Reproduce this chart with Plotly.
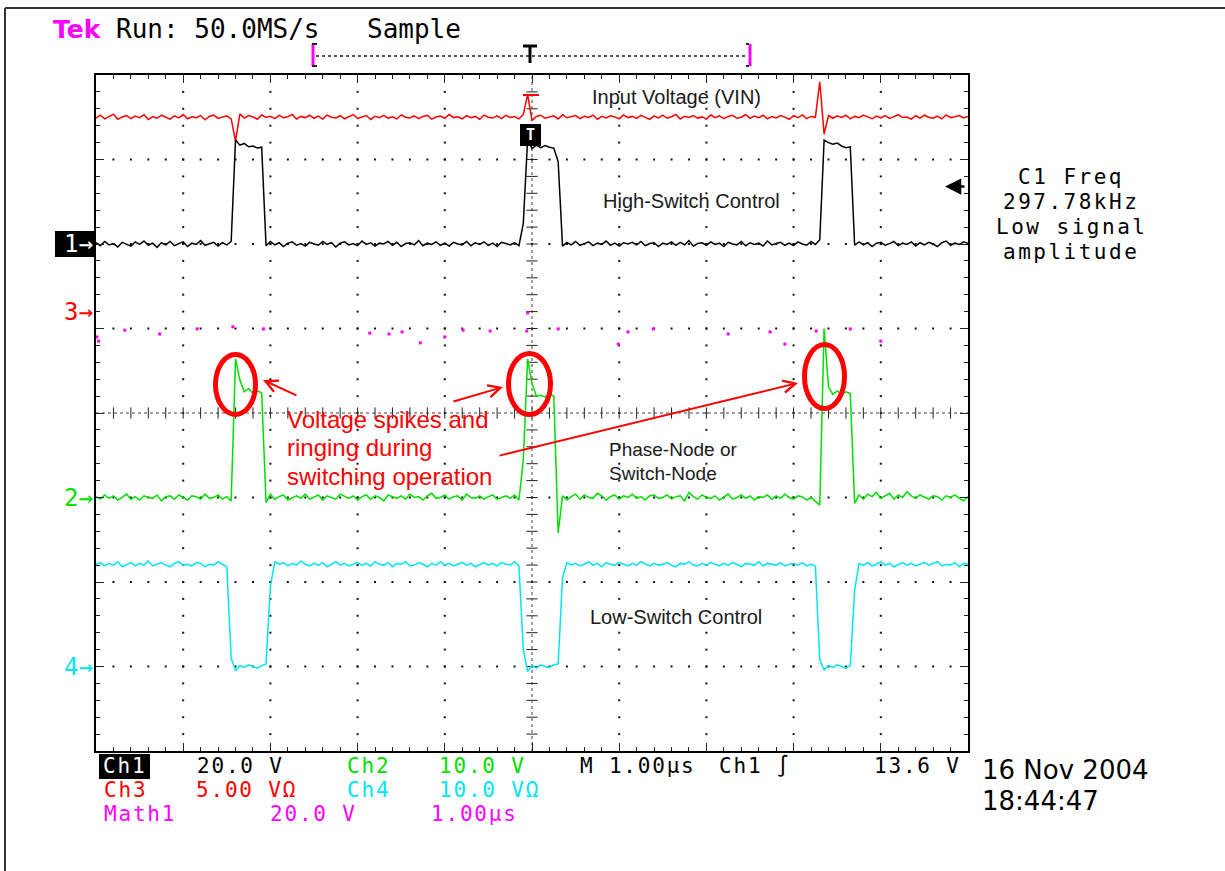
import plotly.graph_objects as go

W, H = 1225, 871
# graticule box in page pixels (left, right, top, bottom)
GX0, GX1, GY0, GY1 = 96, 968, 75, 751

# ---------------- data ----------------
# time base: 1.00 us/div, 10 divisions, displayed samples every 0.05 us
N_SAMPLES = 201
T_START_US, T_STEP_US = -5.0, 0.05
TIME_US = [round(T_START_US + T_STEP_US * i, 3) for i in range(N_SAMPLES)]

# Ch1 : High-Switch Control (volts)
CH1_V = [
    0.3, -0.4, 0.6, -0.2, 0.1, -0.7, 0.4, 0.0, -0.5, 0.5,
    -0.1, 0.7, -0.3, 0.2, -0.8, 0.3, -0.2, 0.6, -0.4, 0.1,
    0.5, -0.6, 0.2, -0.1, 0.8, -0.3, 0.0, 0.4, -0.5, 0.3,
    -0.2, 0.6, 24.6, 23.4, 23.8, 23.0, 23.2, 22.7, 22.9, -0.4,
    0.6, -0.2, 0.3, -0.6, 0.2, 0.5, -0.3, 0.1, -0.5, 0.4,
    0.0, -0.3, 0.6, -0.1, 0.3, -0.7, 0.2, 0.5, -0.2, 0.1,
    -0.4, 0.7, -0.1, 0.3, -0.5, 0.2, 0.0, 0.6, -0.3, 0.4,
    -0.6, 0.1, 0.3, -0.2, 0.8, -0.4, 0.2, -0.1, 0.5, -0.3,
    0.2, -0.5, 0.4, 0.0, -0.2, 0.6, -0.4, 0.3, -0.1, 0.5,
    -0.3, 0.2, -0.6, 0.4, 0.1, -0.2, 0.3, -0.4, 4.8, 24.8,
    22.6, 23.4, 22.8, 23.3, 22.9, 22.7, 19.5, -0.5, 0.4, -0.2,
    0.6, -0.3, 0.1, 0.5, -0.4, 0.2, -0.1, 0.7, -0.3, 0.2,
    -0.5, 0.3, 0.0, 0.4, -0.2, 0.6, -0.4, 0.1, 0.3, -0.6,
    0.2, -0.1, 0.5, -0.3, 0.4, -0.2, 0.8, -0.5, 0.1, 0.3,
    -0.3, 0.5, -0.1, 0.2, -0.6, 0.4, 0.0, -0.2, 0.6, -0.4,
    0.3, -0.1, 0.2, -0.5, 0.7, -0.2, 0.1, 0.4, -0.3, 0.2,
    -0.4, 0.5, 0.0, -0.3, 0.6, -0.1, 1.0, 24.6, 24.0, 23.6,
    23.9, 23.2, 22.8, 23.0, -0.3, 0.5, -0.2, 0.3, -0.6, 0.2,
    0.4, -0.3, 0.1, 0.6, -0.4, 0.2, -0.1, 0.5, -0.5, 0.3,
    -0.2, 0.4, 0.0, -0.6, 0.3, 0.7, -0.3, 0.2, -0.1, 0.5,
    0.1,
]

# Ch2 : Phase-Node / Switch-Node (volts)
CH2_V = [
    0.1, -0.2, 0.3, -0.1, 0.2, -0.3, 0.0, 0.4, -0.2, 0.1,
    -0.3, 0.2, 0.0, -0.1, 0.3, -0.4, 0.1, 0.2, -0.2, 0.3,
    0.0, -0.3, 0.2, 0.1, -0.2, 0.4, -0.1, 0.0, 0.3, -0.2,
    0.1, -0.4, 16.4, 13.9, 12.5, 12.9, 12.3, 12.6, 12.4, -0.6,
    0.4, -0.2, 0.1, 0.3, -0.3, 0.0, 0.2, -0.1, 0.4, -0.2,
    0.1, 0.3, -0.3, 0.2, 0.0, -0.2, 0.4, 0.1, -0.1, 0.2,
    -0.3, 0.1, 0.3, -0.2, 0.2, 0.0, -0.4, 0.3, 0.1, -0.1,
    0.2, -0.2, 0.4, 0.0, 0.1, -0.3, 0.2, 0.5, -0.1, 0.0,
    0.3, -0.2, 0.1, 0.2, -0.3, 0.4, 0.0, -0.1, 0.2, -0.2,
    0.1, 0.3, -0.2, 0.0, 0.2, -0.1, 0.3, -0.3, 4.4, 16.4,
    13.5, 12.0, 12.1, 11.9, 12.2, 12.0, -4.2, 0.2, -0.3, 0.1,
    0.4, -0.2, 0.3, 0.0, -0.1, 0.5, 0.2, -0.3, 0.1, 0.3,
    -0.2, 0.2, 0.0, 0.4, -0.1, 0.1, -0.3, 0.2, 0.3, -0.1,
    0.0, 0.3, -0.2, 0.1, 0.2, -0.4, 0.6, 0.1, -0.2, 0.3,
    0.0, -0.1, 0.2, -0.3, 0.1, 0.4, -0.2, 0.0, 0.3, -0.1,
    0.2, -0.3, 0.1, 0.0, 0.3, -0.2, 0.2, -0.1, 0.4, 0.0,
    -0.2, 0.2, 0.1, -0.3, 0.0, -0.5, -0.9, 20.0, 13.1, 12.2,
    12.6, 12.2, 12.5, 12.3, -0.7, 0.3, -0.2, 0.4, 0.1, 0.6,
    -0.1, 0.2, 0.5, -0.2, 0.3, 0.0, 0.7, 0.2, -0.1, 0.3,
    0.0, -0.2, 0.2, 0.1, -0.3, 0.2, 0.0, 0.3, -0.1, -0.4,
    0.1,
]

# Ch3 : Input Voltage VIN (volts)
CH3_V = [
    11.45, 11.62, 11.40, 11.55, 11.68, 11.38, 11.52, 11.60, 11.42, 11.57,
    11.48, 11.65, 11.36, 11.54, 11.44, 11.62, 11.50, 11.39, 11.58, 11.46,
    11.66, 11.41, 11.53, 11.47, 11.60, 11.35, 11.55, 11.63, 11.43, 11.51,
    11.58, 11.40, 10.10, 11.70, 11.45, 11.60, 11.52, 11.38, 11.64, 11.49,
    11.56, 11.42, 11.61, 11.47, 11.53, 11.67, 11.40, 11.55, 11.48, 11.62,
    11.44, 11.57, 11.39, 11.63, 11.50, 11.46, 11.59, 11.41, 11.54, 11.66,
    11.43, 11.52, 11.60, 11.37, 11.56, 11.48, 11.61, 11.45, 11.53, 11.40,
    11.64, 11.50, 11.46, 11.58, 11.42, 11.55, 11.62, 11.39, 11.51, 11.57,
    11.44, 11.66, 11.48, 11.53, 11.41, 11.60, 11.47, 11.55, 11.38, 11.63,
    11.50, 11.45, 11.58, 11.42, 11.61, 11.49, 11.54, 11.40, 11.66, 12.85,
    11.30, 11.55, 11.62, 11.44, 11.51, 11.58, 11.40, 11.65, 11.47, 11.53,
    11.60, 11.42, 11.56, 11.49, 11.63, 11.38, 11.55, 11.46, 11.59, 11.52,
    11.41, 11.64, 11.48, 11.55, 11.43, 11.61, 11.50, 11.37, 11.58, 11.46,
    11.62, 11.44, 11.53, 11.67, 11.40, 11.56, 11.49, 11.60, 11.45, 11.52,
    11.39, 11.63, 11.47, 11.58, 11.42, 11.55, 11.61, 11.44, 11.50, 11.66,
    11.43, 11.57, 11.48, 11.62, 11.40, 11.54, 11.46, 11.60, 11.51, 11.38,
    11.59, 11.47, 11.64, 11.42, 11.55, 11.50, 13.60, 10.50, 11.60, 11.44,
    11.58, 11.49, 11.62, 11.40, 11.55, 11.47, 11.63, 11.52, 11.41, 11.57,
    11.46, 11.60, 11.43, 11.54, 11.65, 11.48, 11.51, 11.39, 11.59, 11.45,
    11.62, 11.50, 11.44, 11.57, 11.41, 11.64, 11.48, 11.53, 11.60, 11.46,
    11.55,
]

# Ch4 : Low-Switch Control (volts)
CH4_V = [
    12.1, 12.3, 11.9, 12.2, 12.0, 12.4, 11.8, 12.1, 12.3, 11.9,
    12.2, 12.0, 12.5, 11.9, 12.1, 12.3, 12.0, 11.8, 12.2, 12.4,
    12.0, 12.1, 11.9, 12.3, 12.2, 11.8, 12.1, 12.0, 12.4, 12.1,
    11.8, 1.0, -0.5, 0.1, -0.1, 0.2, 0.0, -0.2, 0.1, 0.3,
    9.5, 12.4, 12.1, 12.3, 11.9, 12.2, 12.0, 12.5, 12.1, 11.9,
    12.2, 12.0, 12.3, 11.8, 12.1, 12.4, 12.0, 12.2, 11.9, 12.1,
    12.3, 12.0, 12.2, 11.9, 12.4, 12.1, 12.0, 12.3, 11.8, 12.2,
    12.1, 12.4, 11.9, 12.0, 12.3, 12.1, 11.8, 12.2, 12.0, 12.4,
    12.0, 12.2, 11.9, 12.1, 12.3, 12.0, 12.2, 11.8, 12.1, 12.3,
    12.0, 12.2, 11.9, 12.3, 12.1, 12.0, 12.4, 11.9, 2.0, -0.6,
    0.1, -0.2, 0.2, 0.0, -0.1, 0.2, 0.3, 10.5, 12.3, 12.0,
    12.2, 11.9, 12.1, 12.4, 12.0, 12.2, 11.8, 12.3, 12.1, 12.0,
    12.3, 12.1, 11.9, 12.2, 12.0, 12.4, 12.1, 11.9, 12.2, 12.0,
    12.1, 12.3, 12.0, 11.8, 12.2, 12.1, 12.4, 12.0, 11.9, 12.2,
    12.0, 12.3, 12.1, 11.9, 12.2, 12.0, 12.3, 12.1, 11.8, 12.2,
    12.1, 12.0, 12.4, 11.9, 12.2, 12.1, 12.0, 12.3, 11.9, 12.1,
    12.2, 12.0, 12.3, 11.9, 12.1, 11.9, 0.8, -0.4, 0.1, -0.1,
    0.2, 0.0, -0.2, 0.1, 9.0, 12.2, 12.0, 12.3, 11.9, 12.1,
    12.4, 12.0, 12.2, 11.8, 12.1, 12.3, 12.0, 12.2, 11.9, 12.1,
    12.3, 12.0, 12.2, 12.4, 11.9, 12.1, 12.0, 12.3, 11.8, 12.2,
    12.1,
]

# Math1 : sparse points (time us, volts)
MATH1_T = [-4.99, -4.97, -4.67, -4.27, -3.84, -3.43, -3.08, -1.86, -1.64, -1.49,
           -1.28, -1.00, -0.79, -0.48, -0.06, -0.05, 0.30, 0.99, 1.10, 1.39,
           2.25, 2.73, 2.90, 3.26, 3.65, 4.00]
MATH1_V = [-2.0, -3.0, -0.4, -1.3, -0.1, 0.4, -0.1, -1.1, -1.3, -0.8,
           -3.4, -2.0, -0.4, -0.6, -0.6, 3.7, -0.1, -3.7, -0.8, -0.1,
           -1.3, -0.8, -3.7, -0.6, -0.1, -3.0]

# channel settings: volts/div and ground-marker position (divisions from centre)
SCALE = {"CH1": 20.0, "CH2": 10.0, "CH3": 5.0, "CH4": 10.0, "MATH1": 20.0}
OFFSET = {"CH1": 2.0, "CH2": -1.0, "CH3": 1.2, "CH4": -3.0, "MATH1": 1.0}
TRIGGER_LEVEL_V = 13.6

COL = {"CH1": "#000000", "CH2": "#00e000", "CH3": "#ff0000", "CH4": "#00e6f0",
       "MATH1": "#ff00ff"}

# readout texts
FREQ_LINES = ["C1 Freq", "297.78kHz", "Low signal", "amplitude"]
RED_NOTE = ["Voltage spikes and", "ringing during", "switching operation"]
PHASE_NOTE = ["Phase-Node or", "Switch-Node"]


def to_div(ch, volts):
    return [OFFSET[ch] + v / SCALE[ch] for v in volts]


def PX(x):
    return x / W


def PY(y):
    return 1 - y / H


def spaced(s, px):
    return f"<span style='letter-spacing:{px}px'>{s}</span>"


fig = go.Figure()

# ---------------- graticule ----------------
dot_x, dot_y = [], []
for k in range(-4, 5):
    if k == 0:
        continue
    for j in range(-19, 20):
        dot_x.append(k)
        dot_y.append(j / 5)
for m in range(-3, 4):
    if m == 0:
        continue
    for i in range(-24, 25):
        dot_x.append(i / 5)
        dot_y.append(m)
fig.add_trace(go.Scatter(x=dot_x, y=dot_y, mode="markers", hoverinfo="skip",
                         marker=dict(symbol="square", size=2, color="#111111")))
# centre cross
fig.add_trace(go.Scatter(x=[-5, 5], y=[0, 0], mode="lines", hoverinfo="skip",
                         line=dict(color="#444444", width=1, dash="dot")))
fig.add_trace(go.Scatter(x=[0, 0], y=[-4, 4], mode="lines", hoverinfo="skip",
                         line=dict(color="#444444", width=1, dash="dot")))
fig.add_trace(go.Scatter(x=[i / 5 for i in range(-24, 25)], y=[0] * 49, mode="markers",
                         hoverinfo="skip",
                         marker=dict(symbol="line-ns", size=8,
                                     line=dict(width=1, color="#222222"))))
fig.add_trace(go.Scatter(x=[0] * 39, y=[j / 5 for j in range(-19, 20)], mode="markers",
                         hoverinfo="skip",
                         marker=dict(symbol="line-ew", size=8,
                                     line=dict(width=1, color="#222222"))))

# ---------------- waveforms ----------------
for ch, vals in (("CH3", CH3_V), ("CH1", CH1_V), ("CH2", CH2_V), ("CH4", CH4_V)):
    fig.add_trace(go.Scatter(x=TIME_US, y=to_div(ch, vals), mode="lines",
                             line=dict(color=COL[ch], width=1.5), hoverinfo="skip"))
fig.add_trace(go.Scatter(x=MATH1_T, y=to_div("MATH1", MATH1_V), mode="markers",
                         marker=dict(symbol="square", size=3, color=COL["MATH1"]),
                         hoverinfo="skip"))

axis_common = dict(showgrid=False, zeroline=False, showticklabels=False,
                   showline=True, linewidth=2, linecolor="black", mirror="allticks",
                   ticks="inside", ticklen=8, tickwidth=1, tickcolor="#222222",
                   fixedrange=True)
fig.update_xaxes(range=[-5, 5], domain=[PX(GX0), PX(GX1)], dtick=1, tick0=-5,
                 minor=dict(ticks="inside", dtick=0.2, ticklen=4, tickcolor="#222222"),
                 **axis_common)
fig.update_yaxes(range=[-4, 4], domain=[PY(GY1), PY(GY0)], dtick=1, tick0=-4,
                 minor=dict(ticks="inside", dtick=0.2, ticklen=4, tickcolor="#222222"),
                 **axis_common)

shapes = []
# outer frame
shapes.append(dict(type="line", xref="paper", yref="paper", x0=PX(5), x1=PX(1225),
                   y0=PY(8), y1=PY(8), line=dict(color="#333333", width=2)))
shapes.append(dict(type="line", xref="paper", yref="paper", x0=PX(5), x1=PX(5),
                   y0=PY(8), y1=PY(871), line=dict(color="#333333", width=2)))
# record-view bar at top
shapes.append(dict(type="line", xref="paper", yref="paper", x0=PX(316), x1=PX(748),
                   y0=PY(56), y1=PY(56), line=dict(color="#222222", width=1.5, dash="dot")))
for bx, tick_dir in ((313, 1), (750, -1)):
    shapes.append(dict(type="line", xref="paper", yref="paper", x0=PX(bx), x1=PX(bx),
                       y0=PY(44), y1=PY(66), line=dict(color="#ff00ff", width=3)))
    for by in (44, 66):
        shapes.append(dict(type="line", xref="paper", yref="paper", x0=PX(bx - 1),
                           x1=PX(bx + 4 * tick_dir), y0=PY(by), y1=PY(by),
                           line=dict(color="#222222", width=2)))
shapes.append(dict(type="line", xref="paper", yref="paper", x0=PX(523), x1=PX(537),
                   y0=PY(46), y1=PY(46), line=dict(color="black", width=3)))
shapes.append(dict(type="line", xref="paper", yref="paper", x0=PX(530), x1=PX(530),
                   y0=PY(46), y1=PY(63), line=dict(color="black", width=3)))
# small red cap on Ch3 at trigger
shapes.append(dict(type="line", xref="paper", yref="paper", x0=PX(523), x1=PX(539),
                   y0=PY(95), y1=PY(95), line=dict(color="#ff0000", width=2)))
# black trigger-position box on Ch1
shapes.append(dict(type="rect", xref="paper", yref="paper", x0=PX(520), x1=PX(541),
                   y0=PY(146), y1=PY(124), fillcolor="black", line=dict(width=0)))
# Ch1 ground marker box
shapes.append(dict(type="rect", xref="paper", yref="y", x0=PX(55), x1=PX(95),
                   y0=OFFSET["CH1"] - 0.155, y1=OFFSET["CH1"] + 0.155,
                   fillcolor="black", line=dict(width=0)))
# Ch1 readout box
shapes.append(dict(type="rect", xref="paper", yref="paper", x0=PX(99), x1=PX(150),
                   y0=PY(779), y1=PY(754), fillcolor="black", line=dict(width=0)))
# red ellipses around ringing
for x0, x1, y0, y1 in ((215.5, 255.5, 354.5, 414.5), (508.5, 550.5, 353.5, 414.5),
                       (804.5, 844.5, 344.5, 408.5)):
    shapes.append(dict(type="circle", xref="paper", yref="paper", x0=PX(x0), x1=PX(x1),
                       y0=PY(y1), y1=PY(y0), line=dict(color="#ff0000", width=5)))
fig.update_layout(shapes=shapes)

ann = []


def text(s, x, y, size, color="black", family="DejaVu Sans Mono", xanchor="left",
         **kw):
    ann.append(dict(text=s, x=PX(x), y=PY(y), xref="paper", yref="paper",
                    xanchor=xanchor, yanchor="middle", showarrow=False,
                    borderpad=0, font=dict(family=family, size=size, color=color), **kw))


# header
text("<b>Tek</b>", 52, 29, 25, "#ff00ff", family="DejaVu Sans")
text("Run: 50.0MS/s", 115, 29, 26)
text("Sample", 366, 29, 26)

# trace labels
ARIAL = "Liberation Sans"
text("Input Voltage (VIN)", 591, 97, 20, "#1a1a1a", ARIAL)
text("High-Switch Control", 602, 201, 20, "#1a1a1a", ARIAL)
for k, line in enumerate(PHASE_NOTE):
    text(line, 608, 450 + 23 * k, 19, "#1a1a1a", ARIAL)
text("Low-Switch Control", 589, 617, 20, "#1a1a1a", ARIAL)
for k, line in enumerate(RED_NOTE):
    text(line, 286, 419 + 28.5 * k, 24, "#ff0000", ARIAL)

# measurement readout on the right
for k, line in enumerate(FREQ_LINES):
    text(spaced(line, 2.5), 1071, 177 + 25 * k, 21, xanchor="center")

# trigger marker on Ch1 trace
text("<b>T</b>", 530.5, 135, 15, "white", xanchor="center")

# ground markers on the left, placed at channel offsets
for ch, lab in (("CH1", "1→"), ("CH3", "3→"), ("CH2", "2→"), ("CH4", "4→")):
    ann.append(dict(text=lab, x=PX(GX0 - 1), y=OFFSET[ch], xref="paper", yref="y",
                    xanchor="right", yanchor="middle", showarrow=False,
                    font=dict(family="DejaVu Sans Mono", size=24,
                              color="white" if ch == "CH1" else COL[ch])))

# trigger level arrow on the right edge
ann.append(dict(x=PX(945), y=OFFSET["CH1"] + TRIGGER_LEVEL_V / SCALE["CH1"],
                xref="paper", yref="y", ax=21, ay=0, text="", showarrow=True,
                arrowhead=2, arrowsize=1.3, arrowwidth=2.5, arrowcolor="black"))

# red arrows
for (hx, hy), (tx, ty) in (((263, 380), (298, 396)), ((503, 387), (452, 402)),
                           ((798, 383), (498, 456))):
    ann.append(dict(x=PX(hx), y=PY(hy), xref="paper", yref="paper", ax=tx - hx,
                    ay=ty - hy, text="", showarrow=True, arrowhead=5, arrowsize=1.2,
                    arrowwidth=2, arrowcolor="#ff0000"))

# bottom readout
R1, R2, R3 = 766, 790, 814
FS, LS = 21, 1.8
text(spaced("Ch1", LS), 102, R1, FS, "white")
text(spaced("20.0 V", LS), 196, R1, FS)
text(spaced("Ch2", LS), 346, R1, FS, "#00e000")
text(spaced("10.0 V", LS), 438, R1, FS, "#00e000")
text(spaced("M 1.00µs", LS), 579, R1, FS)
text(spaced("Ch1 ∫", LS), 718, R1, FS)
text(spaced("13.6 V", LS), 962, R1, FS, xanchor="right")
text(spaced("Ch3", LS), 103, R2, FS, "#ff0000")
text(spaced("5.00 VΩ", LS), 195, R2, FS, "#ff0000")
text(spaced("Ch4", LS), 346, R2, FS, "#00e6f0")
text(spaced("10.0 VΩ", LS), 438, R2, FS, "#00e6f0")
text(spaced("Math1", LS), 103, R3, FS, "#ff00ff")
text(spaced("20.0 V", LS), 269, R3, FS, "#ff00ff")
text(spaced("1.00µs", LS), 430, R3, FS, "#ff00ff")

# date / time
text("16 Nov 2004", 981, 770, 26, family="DejaVu Sans")
text("18:44:47", 981, 801, 26, family="DejaVu Sans")

fig.update_layout(annotations=ann, width=W, height=H, autosize=False,
                  margin=dict(l=0, r=0, t=0, b=0), showlegend=False,
                  plot_bgcolor="white", paper_bgcolor="white")

fig.write_html("out.html")
